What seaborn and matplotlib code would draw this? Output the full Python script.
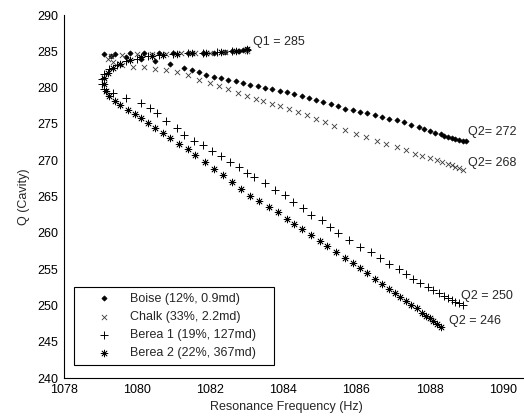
import pandas as pd
import seaborn as sns
import matplotlib.pyplot as plt

# data
boise_x = [1083.0, 1082.9, 1082.8, 1082.6, 1082.4, 1082.1, 1081.8, 1081.4, 1081.0, 1080.6, 1080.2, 1079.8, 1079.4, 1079.1,
           1079.3, 1079.7, 1080.1, 1080.5, 1080.9, 1081.3, 1081.5, 1081.7, 1081.9, 1082.1, 1082.3, 1082.5, 1082.7, 1082.9,
           1083.1, 1083.3, 1083.5, 1083.7, 1083.9, 1084.1, 1084.3, 1084.5, 1084.7, 1084.9, 1085.1, 1085.3, 1085.5, 1085.7,
           1085.9, 1086.1, 1086.3, 1086.5, 1086.7, 1086.9, 1087.1, 1087.3, 1087.5, 1087.7, 1087.85, 1088.0, 1088.15, 1088.3,
           1088.4, 1088.5, 1088.6, 1088.7, 1088.8, 1088.9, 1089.0]
boise_y = [285.3, 285.2, 285.1, 285.0, 284.9, 284.8, 284.8, 284.7, 284.7, 284.7, 284.7, 284.7, 284.6, 284.6,
           284.4, 284.2, 283.9, 283.6, 283.2, 282.7, 282.4, 282.1, 281.8, 281.5, 281.3, 281.1, 280.9, 280.7,
           280.4, 280.2, 280.0, 279.8, 279.6, 279.4, 279.1, 278.9, 278.6, 278.3, 278.0, 277.7, 277.4, 277.0,
           276.9, 276.7, 276.5, 276.2, 276.0, 275.7, 275.5, 275.2, 274.9, 274.6, 274.3, 274.0, 273.8, 273.6,
           273.4, 273.2, 273.0, 272.9, 272.8, 272.7, 272.6]

chalk_x = [1083.0, 1082.7, 1082.4, 1082.0, 1081.6, 1081.2, 1080.8, 1080.4, 1080.0, 1079.6, 1079.3,
           1079.2, 1079.35, 1079.6, 1079.9, 1080.2, 1080.5, 1080.8, 1081.1, 1081.4, 1081.7, 1082.0, 1082.25,
           1082.5, 1082.75, 1083.0, 1083.25, 1083.45, 1083.7, 1083.9, 1084.15, 1084.4, 1084.65, 1084.9, 1085.15,
           1085.4, 1085.7, 1086.0, 1086.25, 1086.55, 1086.8, 1087.1, 1087.35, 1087.6, 1087.8, 1088.0, 1088.2,
           1088.35, 1088.5, 1088.6, 1088.7, 1088.8, 1088.9]
chalk_y = [285.1, 285.0, 284.9, 284.8, 284.7, 284.7, 284.6, 284.6, 284.6, 284.5, 284.4,
           284.0, 283.5, 283.1, 282.9, 282.8, 282.6, 282.4, 282.1, 281.7, 281.1, 280.6, 280.2,
           279.8, 279.3, 278.9, 278.5, 278.2, 277.8, 277.5, 277.0, 276.6, 276.2, 275.7, 275.2,
           274.7, 274.2, 273.6, 273.2, 272.7, 272.3, 271.8, 271.4, 270.9, 270.6, 270.3, 270.0,
           269.7, 269.5, 269.3, 269.1, 268.9, 268.6]

berea1_x = [1083.0, 1082.6, 1082.2, 1081.8, 1081.4, 1081.0, 1080.6, 1080.3,
            1080.0, 1079.7, 1079.45, 1079.25, 1079.1, 1079.05, 1079.05, 1079.1, 1079.35, 1079.7, 1080.1, 1080.35,
            1080.55, 1080.8, 1081.1, 1081.3, 1081.55, 1081.8, 1082.05, 1082.3, 1082.55, 1082.8, 1083.0, 1083.2,
            1083.5, 1083.77, 1084.05, 1084.27, 1084.55, 1084.77, 1085.05, 1085.28, 1085.5, 1085.8, 1086.1, 1086.4,
            1086.65, 1086.9, 1087.15, 1087.35, 1087.55, 1087.75, 1087.95, 1088.1, 1088.25, 1088.4, 1088.5, 1088.6,
            1088.7, 1088.8, 1088.9]
berea1_y = [285.2, 285.0, 284.9, 284.8, 284.7, 284.6, 284.5, 284.3,
            284.0, 283.6, 283.1, 282.5, 281.9, 281.2, 280.5, 279.8, 279.3, 278.6, 277.9, 277.2,
            276.5, 275.4, 274.4, 273.5, 272.7, 272.1, 271.2, 270.6, 269.7, 269.0, 268.3, 267.7,
            266.8, 265.9, 265.2, 264.3, 263.4, 262.5, 261.8, 260.8, 260.0, 259.0, 258.1, 257.3,
            256.5, 255.7, 255.0, 254.3, 253.7, 253.1, 252.6, 252.1, 251.7, 251.3, 251.0, 250.7,
            250.5, 250.3, 250.1]

berea2_x = [1083.0, 1082.7, 1082.3, 1081.9, 1081.5, 1081.1, 1080.7, 1080.4,
            1080.1, 1079.8, 1079.55, 1079.35, 1079.2, 1079.1, 1079.1, 1079.15, 1079.25, 1079.4, 1079.55, 1079.75,
            1079.95, 1080.1, 1080.3, 1080.5, 1080.7, 1080.9, 1081.15, 1081.4, 1081.6, 1081.85, 1082.1, 1082.35,
            1082.6, 1082.85, 1083.1, 1083.35, 1083.6, 1083.85, 1084.1, 1084.3, 1084.5, 1084.75, 1085.0, 1085.2,
            1085.45, 1085.7, 1085.9, 1086.1, 1086.3, 1086.5, 1086.7, 1086.9, 1087.05, 1087.2, 1087.35, 1087.5,
            1087.65, 1087.8, 1087.9, 1088.0, 1088.1, 1088.2, 1088.3]
berea2_y = [285.3, 285.1, 284.9, 284.8, 284.7, 284.6, 284.5, 284.4,
            284.2, 283.8, 283.3, 282.7, 282.0, 281.3, 280.5, 279.6, 278.9, 278.2, 277.6, 276.9,
            276.3, 275.8, 275.1, 274.4, 273.7, 273.1, 272.3, 271.5, 270.7, 269.8, 268.8, 267.9,
            267.0, 266.1, 265.1, 264.4, 263.6, 262.8, 261.9, 261.2, 260.5, 259.7, 258.9, 258.2,
            257.4, 256.5, 255.8, 255.1, 254.4, 253.7, 253.0, 252.3, 251.7, 251.2, 250.6, 250.1,
            249.6, 249.0, 248.6, 248.2, 247.8, 247.4, 247.0]

labels = ["Boise (12%, 0.9md)", "Chalk (33%, 2.2md)", "Berea 1 (19%, 127md)", "Berea 2 (22%, 367md)"]
notes = ["Q1 = 285", "Q2= 272", "Q2= 268", "Q2 = 250", "Q2 = 246"]
note_x = [1083.18, 1089.05, 1089.05, 1088.87, 1088.53]
note_y = [286.3, 273.9, 269.6, 251.3, 247.8]

sns.set_style("white")
plt.rcParams['font.family'] = ['Liberation Sans', 'DejaVu Sans']
plt.rcParams['font.size'] = 9

fig = plt.figure(figsize=(5.24, 4.17), dpi=100)
ax = fig.add_axes([0.1216, 0.0935, 0.8784, 0.8705])

# (x, y, marker, size, line width, colour)
series = [(boise_x, boise_y, "D", 7, 0.5, "k"),
          (chalk_x, chalk_y, "x", 14, 0.6, "#3a3a3a"),
          (berea1_x, berea1_y, "+", 36, 0.7, "k"),
          (berea2_x, berea2_y, (8, 2, 0), 24, 0.55, "k")]
for (xs, ys, mk, sz, lw, col), lab in zip(series, labels):
    df = pd.DataFrame({"f": xs, "q": ys})
    if mk == "D":
        sns.scatterplot(data=df, x="f", y="q", marker=mk, s=sz, color=col,
                        edgecolor=col, linewidth=lw, label=lab, ax=ax)
    else:
        sns.scatterplot(data=df, x="f", y="q", marker=mk, s=sz, color=col,
                        linewidth=lw, label=lab, ax=ax)

for t, tx, ty in zip(notes, note_x, note_y):
    ax.text(tx, ty, t, ha="left", va="center", fontsize=9)

ax.set_xlim(1078, 1090.58)
ax.set_ylim(240, 290)
ax.set_xticks(range(1078, 1091, 2))
ax.set_yticks(range(240, 291, 5))
ax.tick_params(direction="in", length=4, width=0.8, colors="k", pad=4)
for s in ["top", "right"]:
    ax.spines[s].set_visible(False)
for s in ["left", "bottom"]:
    ax.spines[s].set_color("k")
    ax.spines[s].set_linewidth(0.8)

ax.set_xlabel("Resonance Frequency (Hz)", fontsize=9)
ax.set_ylabel("Q (Cavity)", fontsize=9, labelpad=5)
ax.xaxis.set_label_coords(0.483, -0.062)

leg = ax.legend(loc="lower left", bbox_to_anchor=(0.0224, 0.036, 0.4345, 0.2287), mode="expand",
                borderaxespad=0, fancybox=False, edgecolor="k", framealpha=1,
                handlelength=3.9, handletextpad=0.15, borderpad=0.45, labelspacing=0.5,
                scatterpoints=1, fontsize=9)
leg.get_frame().set_linewidth(0.8)

plt.savefig("out.png", dpi=100)
